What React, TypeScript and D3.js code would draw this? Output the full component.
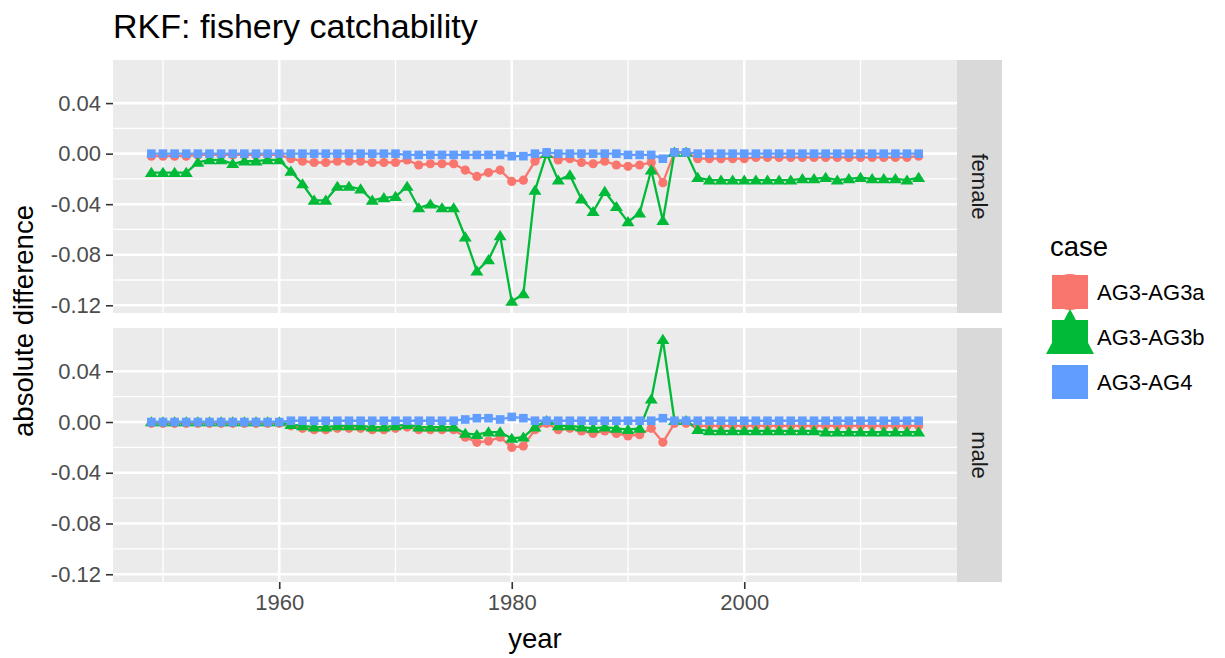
import React, { useRef, useEffect } from "react";
import * as d3 from "d3";

const years = d3.range(1949, 2016);
const cases = ["AG3-AG3a", "AG3-AG3b", "AG3-AG4"];
const caseColors = ["#F8766D", "#00BA38", "#619CFF"];
const panels = ["female", "male"];
const yTicks = [0.04, 0.0, -0.04, -0.08, -0.12];
const xTicks = [1960, 1980, 2000];

// female panel
const femaleA = [
  -0.002, -0.002, -0.002, -0.002, -0.001, -0.001, -0.001, -0.001, -0.001, -0.001, -0.001, -0.001,
  -0.004, -0.006, -0.007, -0.007, -0.006, -0.006, -0.006, -0.007, -0.007, -0.007,
  -0.005, -0.009, -0.008, -0.008, -0.008, -0.013, -0.018, -0.015, -0.013, -0.022,
  -0.021, -0.006, 0.0, -0.005, -0.004, -0.007, -0.008, -0.006, -0.009, -0.01,
  -0.009, -0.007, -0.023, 0.001, 0.001, -0.004, -0.004, -0.004, -0.004, -0.004,
  -0.003, -0.003, -0.003, -0.003, -0.003, -0.003, -0.003, -0.003, -0.003, -0.003,
  -0.003, -0.003, -0.003, -0.003, -0.002,
];
const femaleB = [
  -0.015, -0.015, -0.015, -0.015, -0.007, -0.005, -0.005, -0.008, -0.006, -0.006, -0.005, -0.005,
  -0.014, -0.024, -0.037, -0.037, -0.026, -0.026, -0.028, -0.037, -0.035, -0.034,
  -0.026, -0.043, -0.04, -0.043, -0.043, -0.066, -0.093, -0.084, -0.065, -0.117,
  -0.111, -0.029, 0.0, -0.021, -0.017, -0.036, -0.046, -0.03, -0.042, -0.054,
  -0.047, -0.013, -0.053, 0.001, 0.001, -0.019, -0.021, -0.021, -0.021, -0.021,
  -0.021, -0.021, -0.021, -0.021, -0.02, -0.02, -0.019, -0.021, -0.02, -0.019,
  -0.02, -0.02, -0.02, -0.021, -0.019,
];
const femaleC = [
  0, 0, 0, 0, 0, 0, 0, 0, 0, 0, 0, 0,
  0, 0, 0, 0, 0, 0, 0, 0, 0, 0,
  -0.001, -0.001, -0.001, -0.001, -0.001, -0.001, -0.001, -0.001, -0.001, -0.002,
  -0.002, 0, 0.001, 0, 0, 0, 0, 0, 0, -0.001,
  -0.001, -0.001, -0.004, 0.001, 0.001, 0, 0, 0, 0, 0,
  0, 0, 0, 0, 0, 0, 0, 0, 0, 0,
  0, 0, 0, 0, 0,
];

// male panel
const maleA = [
  -0.001, -0.001, -0.001, -0.001, -0.001, -0.001, -0.001, -0.001, -0.001, -0.001, -0.001, -0.001,
  -0.003, -0.005, -0.006, -0.006, -0.005, -0.005, -0.005, -0.006, -0.006, -0.005,
  -0.004, -0.006, -0.006, -0.006, -0.006, -0.012, -0.016, -0.015, -0.012, -0.02,
  -0.019, -0.006, -0.001, -0.006, -0.005, -0.007, -0.009, -0.007, -0.009, -0.011,
  -0.01, -0.005, -0.016, -0.001, -0.001, -0.003, -0.003, -0.003, -0.003, -0.003,
  -0.003, -0.003, -0.003, -0.003, -0.003, -0.003, -0.003, -0.003, -0.003, -0.003,
  -0.003, -0.003, -0.003, -0.003, -0.003,
];
const maleB = [
  0, 0, 0, 0, 0, 0, 0, 0, 0, 0, 0, 0,
  -0.002, -0.003, -0.004, -0.004, -0.003, -0.003, -0.003, -0.004, -0.004, -0.003,
  -0.002, -0.004, -0.004, -0.004, -0.004, -0.009, -0.01, -0.008, -0.008, -0.013,
  -0.012, -0.004, 0.001, -0.003, -0.003, -0.004, -0.005, -0.004, -0.005, -0.006,
  -0.005, 0.018, 0.065, 0.001, 0.001, -0.006, -0.007, -0.007, -0.007, -0.007,
  -0.007, -0.007, -0.007, -0.007, -0.007, -0.007, -0.008, -0.008, -0.008, -0.008,
  -0.008, -0.008, -0.008, -0.008, -0.008,
];
const maleC = [
  0, 0, 0, 0, 0, 0, 0, 0, 0, 0, 0, 0,
  0.001, 0.001, 0.001, 0.001, 0.001, 0.001, 0.001, 0.001, 0.001, 0.001,
  0.001, 0.001, 0.001, 0.001, 0.001, 0.002, 0.003, 0.003, 0.002, 0.004,
  0.003, 0.001, 0.001, 0.001, 0.001, 0.001, 0.001, 0.001, 0.001, 0.001,
  0.001, 0.001, 0.003, 0.001, 0.001, 0.001, 0.001, 0.001, 0.001, 0.001,
  0.001, 0.001, 0.001, 0.001, 0.001, 0.001, 0.001, 0.001, 0.001, 0.001,
  0.001, 0.001, 0.001, 0.001, 0.001,
];

const panelSeries = [
  [femaleA, femaleB, femaleC],
  [maleA, maleB, maleC],
];

const FONT = "'Liberation Sans', Arial, Helvetica, sans-serif";
const TICK_SIZE = 22;
const AXIS_TITLE = 27.5;

// ggplot-ish point shapes: circle, triangle, square
const drawMarker = (g: any, k: number, x: number, y: number, color: string) => {
  if (k === 0) {
    g.append("circle").attr("cx", x).attr("cy", y).attr("r", 4.6).attr("fill", color);
  } else if (k === 1) {
    const w = 6.5, h = 5.8;
    g.append("path")
      .attr("d", `M${x},${y - h}L${x + w},${y + h * 0.75}L${x - w},${y + h * 0.75}Z`)
      .attr("fill", color);
  } else {
    const w = 4.3;
    g.append("rect").attr("x", x - w).attr("y", y - w).attr("width", 2 * w).attr("height", 2 * w).attr("fill", color);
  }
};

const fmt = (d: any) => d3.format(".2f")(d).replace("\u2212", "-");

export default function App() {
  const ref = useRef<SVGSVGElement>(null);

  useEffect(() => {
    if (!ref.current) return;
    const svg = d3.select(ref.current);
    svg.selectAll("*").remove();

    const left = 113, right = 957, stripW = 45;
    const panelBoxes = [
      { top: 60, bottom: 313 },
      { top: 328, bottom: 582 },
    ];

    const allVals = panelSeries.flat(2);
    const [lo, hi] = d3.extent(allVals) as [number, number];
    const pad = (hi - lo) * 0.05;
    const [x0, x1] = d3.extent(years) as [number, number];
    const xpad = (x1 - x0) * 0.05;
    const x = d3.scaleLinear().domain([x0 - xpad, x1 + xpad]).range([left, right]);

    svg.append("rect").attr("width", 1225).attr("height", 658).attr("fill", "white");

    svg.append("text")
      .attr("x", left).attr("y", 38)
      .attr("font-size", 34).attr("fill", "black")
      .text("RKF: fishery catchability");

    panels.forEach((name, pi) => {
      const box = panelBoxes[pi];
      const y = d3.scaleLinear().domain([lo - pad, hi + pad]).range([box.bottom, box.top]);
      const g = svg.append("g");

      g.append("rect")
        .attr("x", left).attr("y", box.top)
        .attr("width", right - left).attr("height", box.bottom - box.top)
        .attr("fill", "#ebebeb");

      // minor grid
      const minorY = yTicks.slice(0, -1).map((t, i) => (t + yTicks[i + 1]) / 2);
      minorY.forEach((t) => {
        g.append("line").attr("x1", left).attr("x2", right).attr("y1", y(t)).attr("y2", y(t))
          .attr("stroke", "white").attr("stroke-width", 1.3);
      });
      [1950, 1970, 1990, 2010].forEach((t) => {
        g.append("line").attr("x1", x(t)).attr("x2", x(t)).attr("y1", box.top).attr("y2", box.bottom)
          .attr("stroke", "white").attr("stroke-width", 1.3);
      });
      // major grid
      yTicks.forEach((t) => {
        g.append("line").attr("x1", left).attr("x2", right).attr("y1", y(t)).attr("y2", y(t))
          .attr("stroke", "white").attr("stroke-width", 2.6);
      });
      xTicks.forEach((t) => {
        g.append("line").attr("x1", x(t)).attr("x2", x(t)).attr("y1", box.top).attr("y2", box.bottom)
          .attr("stroke", "white").attr("stroke-width", 2.6);
      });

      const yAxis = g.append("g")
        .attr("transform", `translate(${left},0)`)
        .call(d3.axisLeft(y).tickValues(yTicks).tickSize(7).tickPadding(5).tickFormat(fmt));
      yAxis.select(".domain").remove();
      yAxis.selectAll("line").attr("stroke", "#333333").attr("stroke-width", 1.6);
      yAxis.selectAll("text").attr("font-size", TICK_SIZE).attr("fill", "#4d4d4d").attr("font-family", FONT);

      // facet strip
      g.append("rect")
        .attr("x", right).attr("y", box.top)
        .attr("width", stripW).attr("height", box.bottom - box.top)
        .attr("fill", "#d9d9d9");
      const cy = (box.top + box.bottom) / 2;
      g.append("text")
        .attr("transform", `translate(${right + stripW / 2},${cy}) rotate(90)`)
        .attr("text-anchor", "middle").attr("dy", "0.35em")
        .attr("font-size", TICK_SIZE).attr("fill", "#1a1a1a")
        .text(name);

      const line = d3.line<number>().x((_, i) => x(years[i])).y((d) => y(d));
      const series = panelSeries[pi];
      series.forEach((vals, k) => {
        g.append("path").datum(vals).attr("d", line)
          .attr("fill", "none").attr("stroke", caseColors[k]).attr("stroke-width", 2.3)
          .attr("stroke-linejoin", "round");
      });
      series.forEach((vals, k) => {
        vals.forEach((v, i) => drawMarker(g, k, x(years[i]), y(v), caseColors[k]));
      });

      if (pi === panels.length - 1) {
        const xAxis = g.append("g")
          .attr("transform", `translate(0,${box.bottom})`)
          .call(d3.axisBottom(x).tickValues(xTicks).tickSize(7).tickPadding(5).tickFormat(d3.format("d")));
        xAxis.select(".domain").remove();
        xAxis.selectAll("line").attr("stroke", "#333333").attr("stroke-width", 1.6);
        xAxis.selectAll("text").attr("font-size", TICK_SIZE).attr("fill", "#4d4d4d").attr("font-family", FONT);
      }
    });

    svg.append("text")
      .attr("x", (left + right) / 2).attr("y", 648)
      .attr("text-anchor", "middle").attr("font-size", AXIS_TITLE).attr("fill", "black")
      .text("year");
    svg.append("text")
      .attr("transform", `translate(33,${(60 + 582) / 2}) rotate(-90)`)
      .attr("text-anchor", "middle").attr("font-size", AXIS_TITLE).attr("fill", "black")
      .text("absolute difference");

    // legend
    const lg = svg.append("g");
    lg.append("text").attr("x", 1050).attr("y", 256).attr("font-size", AXIS_TITLE).attr("fill", "black").text("case");
    cases.forEach((c, k) => {
      const ky = 274 + k * 45;
      const col = caseColors[k];
      lg.append("rect").attr("x", 1052).attr("y", ky + 1).attr("width", 36).attr("height", 34).attr("fill", col);
      if (k === 0) {
        lg.append("circle").attr("cx", 1070).attr("cy", ky + 18).attr("r", 18).attr("fill", col);
      } else if (k === 1) {
        lg.append("path")
          .attr("d", `M1070,${ky - 10}L1094,${ky + 35}L1046,${ky + 35}Z`)
          .attr("fill", col);
      }
      lg.append("text").attr("x", 1097).attr("y", ky + 18).attr("dy", "0.35em")
        .attr("font-size", TICK_SIZE).attr("fill", "black").text(c);
    });
  }, []);

  return (
    <svg
      ref={ref}
      width={1225}
      height={658}
      style={{ position: "absolute", left: 0, top: 0, fontFamily: FONT }}
    />
  );
}
